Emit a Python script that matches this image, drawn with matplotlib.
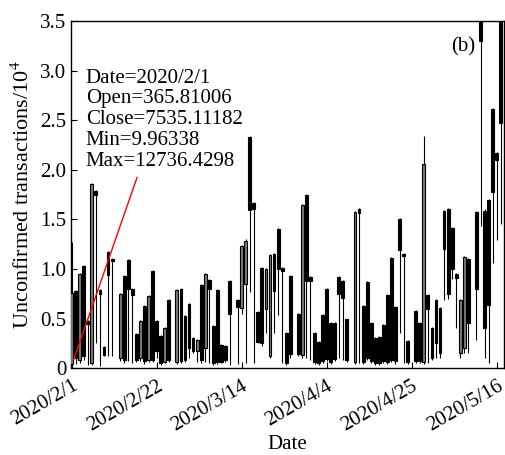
import matplotlib
matplotlib.use('Agg')
import matplotlib.pyplot as plt
import matplotlib.dates as mdates
import numpy as np
import pandas as pd

plt.rcParams['font.family'] = ['Liberation Serif', 'DejaVu Serif']
plt.rcParams['mathtext.fontset'] = 'stix'

# ---- data (unconfirmed transactions, units of 10^4) ----
start_date = '2020-02-01'
end_date = '2020-05-17'
missing_dates = ['2020-02-12', '2020-02-26', '2020-03-12', '2020-03-27',
                 '2020-04-10', '2020-04-25', '2020-05-10']

open_ = [0.0366, .78, .08, 1.03, .47, .05, 1.79, .79, .21, 1.17,
         1.10, .10, .93, 1.09, .80, .34, .10, .63, .08, .98,
         .47, .32, .06, .69, .06, .80, .53, .65, .30, .17,
         .84, .20, .89, .42, .79, .23, .22, .88, .69, .61,
         .85, 2.33, 1.66, .57, 1.01, .60, .12, 1.15, 1.40, 1.01,
         .35, .93, .55, .13, 1.75, .92, .35, .26, .54, .80,
         .45, .45, .92, .88, .49, .06, 1.60, .63, .87, .45,
         .30, .31, .43, .74, 1.11, .62, 1.50, 1.15, .27, .58,
         .45, .06, .74, .40, .69, .61, 1.58, 1.60, 1.41, .95,
         .15, .20, 1.10, 1.57, 3.80, 1.58, 1.69, 2.61, 2.17, 3.80]
close = [0.7535, .10, .95, .12, .44, 1.86, 1.75, .75, .13, .94,
         1.08, .75, .08, .80, .74, .08, .47, .07, .73, .08,
         .17, .05, .40, .08, .79, .07, .08, .20, .17, .28,
         .08, .95, .80, .05, .06, .06, .08, .55, .62, 1.23,
         1.28, 1.59, 1.60, .26, .25, 1.00, 1.14, .78, 1.00, .98,
         .05, .14, .14, 1.64, .88, .88, .06, .05, .07, .09,
         .06, .09, .75, .71, .08, 1.57, 1.56, .06, .10, .07,
         .05, .05, .07, .06, .08, .07, 1.19, 1.13, .06, .07,
         .07, 2.06, .60, .10, .25, .15, 1.20, .75, 1.00, .91,
         .69, 1.12, .45, .80, 3.30, .40, .64, 1.78, 2.10, 2.47]
low = [0.0010, .04, .05, .08, .03, .03, .25, .02, .12, .12,
       .12, .07, .05, .07, .05, .06, .07, .04, .06, .06,
       .10, .03, .05, .06, .04, .05, .06, .10, .15, .06,
       .05, .06, .05, .03, .04, .05, .06, .03, .04, .55,
       .05, .77, .05, .25, .22, .35, .10, .35, .54, .05,
       .03, .10, .12, .10, .10, .08, .04, .03, .05, .07,
       .04, .07, .10, .08, .06, .04, .05, .04, .08, .05,
       .03, .03, .05, .04, .06, .04, .35, .05, .04, .05,
       .05, .04, .05, .08, .10, .10, .69, .70, .90, .40,
       .10, .15, .15, .28, 1.43, .10, .05, 1.06, 1.29, 1.45]
high = [1.2736, .79, .96, 1.04, .48, 1.87, 1.80, .80, .22, 1.18,
        1.11, .76, .94, 1.10, .81, .35, .48, .64, .74, .99,
        .48, .33, .41, .70, .80, .81, .54, .66, .31, .29,
        .85, .96, .90, .43, .80, .24, .23, .89, .70, 1.24,
        1.30, 2.34, 1.67, .58, 1.02, 1.01, 1.15, 1.16, 1.41, 1.02,
        .36, .94, .56, 1.65, 1.76, .93, .36, .27, .55, .81,
        .46, .46, .93, .89, .50, 1.58, 1.61, .64, .88, .46,
        .31, .32, .44, .75, 1.12, .63, 1.51, 1.16, .28, .59,
        .46, 2.34, .75, .41, .70, .62, 1.59, 1.61, 1.42, .96,
        .70, 1.13, 1.11, 1.58, 3.90, 1.60, 1.70, 2.62, 2.18, 3.90]

tick_dates = ['2020-02-01', '2020-02-22', '2020-03-14', '2020-04-04',
              '2020-04-25', '2020-05-16']
tick_labels = ['2020/2/1', '2020/2/22', '2020/3/14', '2020/4/4',
               '2020/4/25', '2020/5/16']
y_ticks = [0, 0.5, 1.0, 1.5, 2.0, 2.5, 3.0, 3.5]
y_tick_labels = ['0', '0.5', '1.0', '1.5', '2.0', '2.5', '3.0', '3.5']

annotation_text = ('Date=2020/2/1\nOpen=365.81006\nClose=7535.11182\n'
                   'Min=9.96338\nMax=12736.4298')

# ---- plot ----
dates = pd.date_range(start_date, end_date).difference(pd.to_datetime(missing_dates))
x = mdates.date2num(dates)
o = np.array(open_); c = np.array(close); lo = np.array(low); hi = np.array(high)
up = c >= o

fig = plt.figure(figsize=(5.05, 4.55), dpi=100)
ax = fig.add_axes([0.1406, 0.191, 0.8574, 0.763])

ax.vlines(x, lo, hi, color='black', lw=0.8, zorder=2)
ax.bar(x[up], (c - o)[up], bottom=o[up], width=0.7, color='#7a7a7a',
       edgecolor='black', linewidth=0.8, zorder=3)
ax.bar(x[~up], (o - c)[~up], bottom=c[~up], width=0.7, color='black',
       edgecolor='black', linewidth=0.8, zorder=3)

x0 = mdates.date2num(pd.Timestamp(start_date))
ax.set_xlim(x0 - 0.15, x0 + 106.8)
ax.set_ylim(0, 3.5)
ax.set_yticks(y_ticks)
ax.set_yticklabels(y_tick_labels)
ax.set_xticks(mdates.date2num(pd.to_datetime(tick_dates)))
ax.set_xticklabels(tick_labels, rotation=30, ha='right', rotation_mode='anchor')
ax.tick_params(direction='in', length=4, width=0.8, labelsize=15)
ax.tick_params(axis='x', pad=6)
for s in ax.spines.values():
    s.set_linewidth(1.0)

ax.set_xlabel('Date', fontsize=15, labelpad=0)
ax.set_ylabel('Unconfirmed transactions/10$^{4}$', fontsize=16, labelpad=4)

ax.text(x0 + 3.5, 3.02, annotation_text, ha='left', va='top',
        fontsize=15, linespacing=1.13, zorder=5)
ax.annotate('', xy=(x[0] + 0.3, 0.06), xytext=(x0 + 16.4, 1.95),
            arrowprops=dict(arrowstyle='-', color='red', lw=1.0), zorder=5)
ax.text(0.905, 0.925, '(b)', transform=ax.transAxes, ha='center',
        va='center', fontsize=15)

fig.savefig('out.png', dpi=100)
